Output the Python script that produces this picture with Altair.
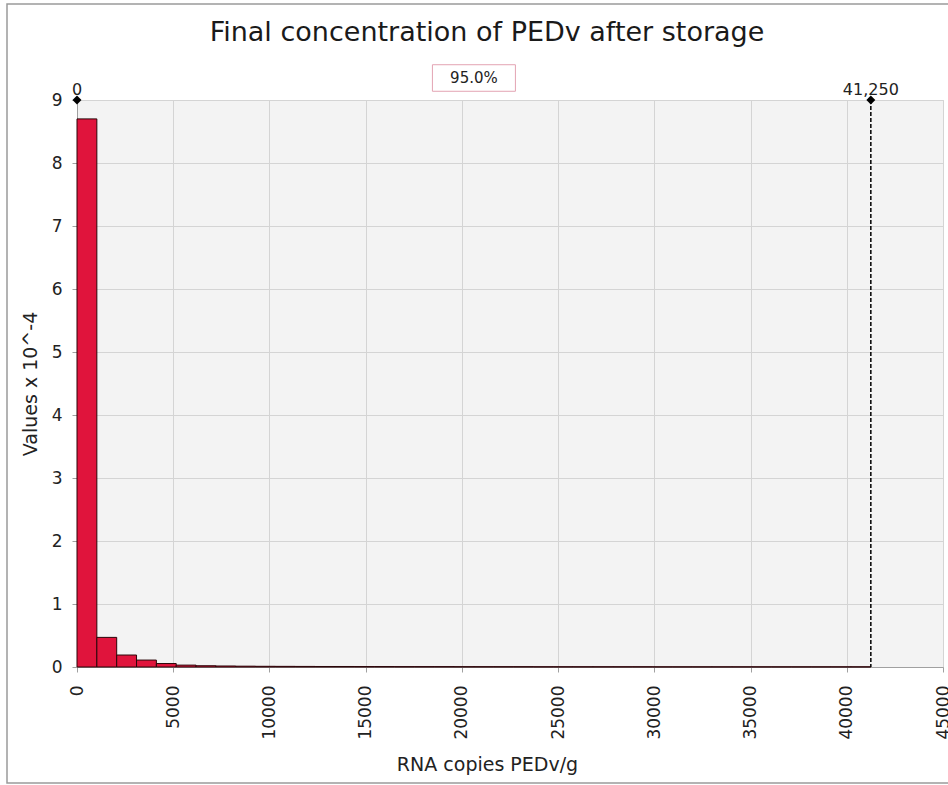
import altair as alt
import pandas as pd

# ---- data ----
bin_count = 40
x_max = 41250
bin_width = x_max / bin_count
density = [8.70, 0.47, 0.19, 0.11, 0.055, 0.030, 0.020, 0.016, 0.013, 0.011,
           0.010, 0.009, 0.008, 0.008, 0.007, 0.007, 0.006, 0.006, 0.006, 0.005,
           0.005, 0.005, 0.005, 0.004, 0.004, 0.004, 0.004, 0.004, 0.004, 0.003,
           0.003, 0.003, 0.003, 0.003, 0.003, 0.003, 0.003, 0.003, 0.003, 0.003]
x_ticks = [0, 5000, 10000, 15000, 20000, 25000, 30000, 35000, 40000, 45000]
y_ticks = [0, 1, 2, 3, 4, 5, 6, 7, 8, 9]
limit_x = [0, 41250]
limit_labels = ["0", "41,250"]
interval_label = "95.0%"

FONT = "DejaVu Sans"

bars_df = pd.DataFrame({
    "start": [i * bin_width for i in range(bin_count)],
    "end": [(i + 1) * bin_width for i in range(bin_count)],
    "value": density,
})
limits_df = pd.DataFrame({"x": limit_x, "label": limit_labels, "top": [9, 9], "bottom": [0, 0]})
interval_df = pd.DataFrame({"x": [(limit_x[0] + limit_x[1]) / 2], "y": [9], "label": [interval_label]})

xscale = alt.Scale(domain=[0, 45000], nice=False, zero=True)
yscale = alt.Scale(domain=[0, 9], nice=False)

bars = alt.Chart(bars_df).mark_bar(
    color="#e0143c", stroke="#2a0508", strokeWidth=1, clip=False
).encode(
    x=alt.X("start:Q", scale=xscale,
            axis=alt.Axis(values=x_ticks, format="d", labelAngle=270, labelPadding=13,
                          title="RNA copies PEDv/g", titleX=410, titlePadding=16)),
    x2="end:Q",
    y=alt.Y("value:Q", scale=yscale,
            axis=alt.Axis(values=y_ticks, format="d", labelPadding=10,
                          title="Values x 10^-4", titlePadding=11)),
    y2=alt.datum(0),
)

rule = alt.Chart(limits_df[limits_df["x"] > 0]).mark_rule(
    color="black", strokeDash=[4, 2], strokeWidth=1.5
).encode(x="x:Q", y="top:Q", y2="bottom:Q")

diamonds = alt.Chart(limits_df).mark_point(
    shape="diamond", filled=True, color="black", size=80, opacity=1, clip=False
).encode(x="x:Q", y="top:Q")

limit_text = alt.Chart(limits_df).mark_text(
    font=FONT, fontSize=16, color="#222", baseline="bottom", dy=-2
).encode(x="x:Q", y="top:Q", text="label:N")

box = alt.Chart(interval_df).mark_point(
    shape="M-1,-0.32L1,-0.32L1,0.32L-1,0.32Z", size=6889, filled=False,
    stroke="#e3a3b3", strokeWidth=1, opacity=1, yOffset=-22
).encode(x="x:Q", y="y:Q")

box_text = alt.Chart(interval_df).mark_text(
    font=FONT, fontSize=15, color="#222", baseline="middle", dy=-22
).encode(x="x:Q", y="y:Q", text="label:N")

# decorative outer frame of the picture
frame = alt.Chart(pd.DataFrame({"f": [0]})).mark_rect(
    filled=False, stroke="#9a9a9a", strokeWidth=1.5, clip=False
).encode(x=alt.value(-70), x2=alt.value(880), y=alt.value(-96), y2=alt.value(683))

chart = alt.layer(frame, bars, rule, diamonds, limit_text, box, box_text).properties(
    width=866, height=567,
    autosize=alt.AutoSizeParams(type="none"),
    padding={"left": 77, "top": 100, "right": 5, "bottom": 118},
    background="white",
    title=alt.TitleParams("Final concentration of PEDv after storage", font=FONT,
                          fontSize=27, fontWeight="normal", color="#1a1a1a",
                          anchor="middle", dx=-23, offset=-44),
).configure_view(
    fill="#f3f3f3", stroke="#cfcfcf"
).configure_axis(
    labelFont=FONT, titleFont=FONT, labelFontSize=17, titleFontSize=19,
    labelColor="#222", titleColor="#222", titleFontWeight="normal",
    gridColor="#d4d4d4", domainColor="#a0a0a0", tickColor="#a0a0a0", tickSize=5,
)

chart.save("out.html", embed_options={"renderer": "svg", "actions": False})
